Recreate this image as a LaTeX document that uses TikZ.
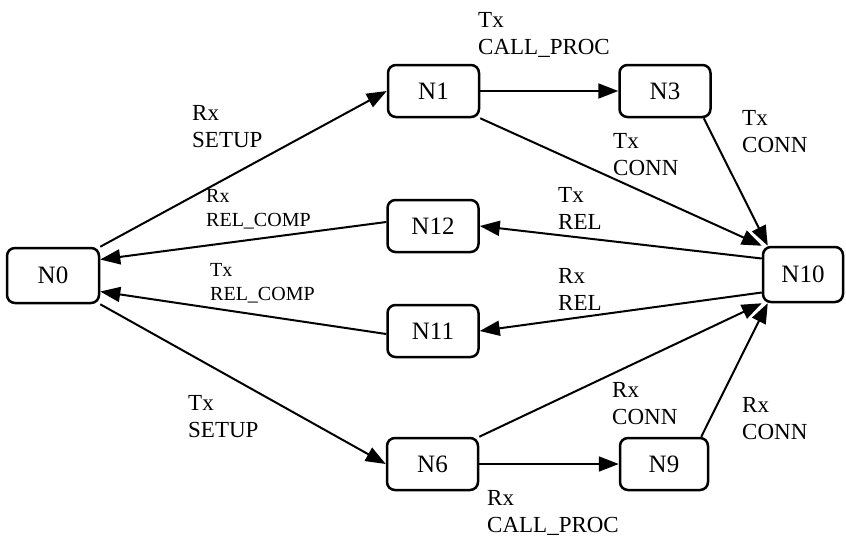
\documentclass[tikz,border=0pt]{standalone}
\usepackage{fontspec}
\setmainfont{Liberation Serif}
\usetikzlibrary{arrows.meta}
\newcommand\twoline[2]{\begin{tabular}[t]{@{}l@{}}#1\\#2\end{tabular}}
\begin{document}
\begin{tikzpicture}[x=1pt,y=-1pt,
  state/.style={draw, line width=2.5pt, rounded corners=8pt, minimum width=91pt, minimum height=52pt, inner sep=0pt, font=\fontsize{25}{30}\selectfont},
  edge/.style={line width=2pt, -{Triangle[length=20pt,width=15pt]}},
  lbl/.style={anchor=base west, inner sep=0pt, font=\fontsize{23}{27}\selectfont},
  slbl/.style={anchor=base west, inner sep=0pt, font=\fontsize{20}{24.5}\selectfont}]
\useasboundingbox (0,0) rectangle (846,536);

\node[state, minimum width=92pt, minimum height=55pt] (N0) at (53,275.5) {N0};
\node[state] (N1) at (433.5,91) {N1};
\node[state] (N3) at (665,91) {N3};
\node[state] (N12) at (433,226) {N12};
\node[state] (N11) at (433,331) {N11};
\node[state] (N6) at (432.5,464) {N6};
\node[state, minimum width=88pt] (N9) at (664,464) {N9};
\node[state, minimum width=80pt, minimum height=55pt] (N10) at (803,274.5) {N10};

\coordinate (a10nw) at ([xshift=6pt]N10.north west);
\coordinate (a10sw) at ([xshift=6pt]N10.south west);

\draw[edge] (N0.north east) -- (N1.west);
\draw[edge] (N1.east) -- (N3.west);
\draw[edge] (N1.south east) -- (N10.north west);
\draw[edge] ([xshift=-8pt]N3.south east) -- (a10nw);
\draw[edge] ([yshift=16pt]N10.west) -- (N12.east);
\draw[edge] ([yshift=4pt]N12.west) -- ([yshift=16pt]N0.east);
\draw[edge] ([yshift=-18pt]N10.west) -- (N11.east);
\draw[edge] ([yshift=-3pt]N11.west) -- ([yshift=-16pt]N0.east);
\draw[edge] (N0.south east) -- (N6.west);
\draw[edge] (N6.east) -- (N9.west);
\draw[edge] (N6.north east) -- (N10.south west);
\draw[edge] ([xshift=-8pt]N9.north east) -- (a10sw);

\node[lbl] (l1) at (478,27) {\twoline{Tx}{CALL\_PROC}};
\node[lbl] (l2) at (192,120) {\twoline{Rx}{SETUP}};
\node[lbl] (l3) at (613,148) {\twoline{Tx}{CONN}};
\node[lbl] (l4) at (742,125) {\twoline{Tx}{CONN}};
\node[slbl] (l5) at (206,202) {\twoline{Rx}{REL\_COMP}};
\node[lbl] (l6) at (558,202) {\twoline{Tx}{REL}};
\node[slbl] (l7) at (210,276) {\twoline{Tx}{REL\_COMP}};
\node[lbl] (l8) at (558,283) {\twoline{Rx}{REL}};
\node[lbl] (l9) at (188,410) {\twoline{Tx}{SETUP}};
\node[lbl] (l10) at (612,397) {\twoline{Rx}{CONN}};
\node[lbl] (l11) at (742,412) {\twoline{Rx}{CONN}};
\node[lbl] (l12) at (487,505) {\twoline{Rx}{CALL\_PROC}};
\end{tikzpicture}
\end{document}
